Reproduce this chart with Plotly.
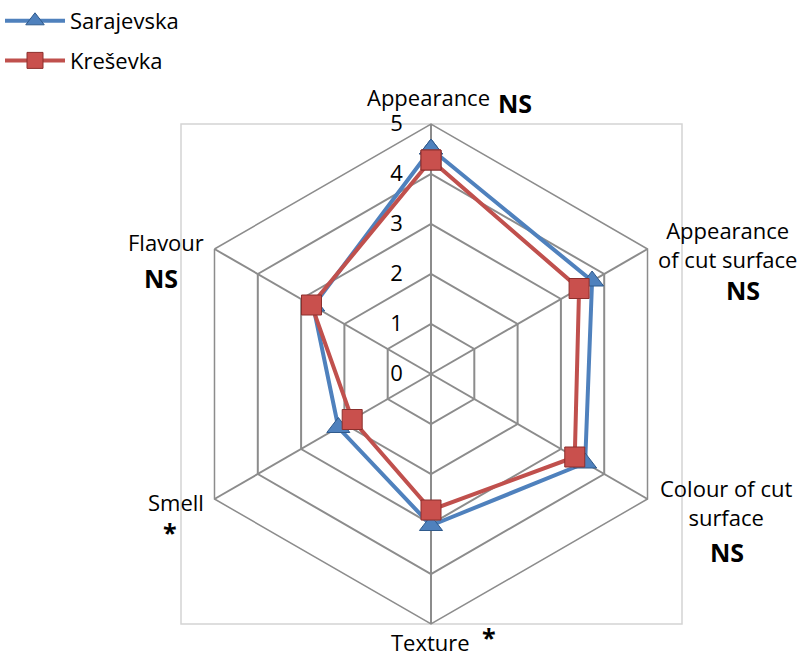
import plotly.graph_objects as go

# Sensory attributes (clockwise from the top)
attributes = ["Appearance", "Appearance of cut surface", "Colour of cut surface",
              "Texture", "Smell", "Flavour"]

# Mean panel scores (0-5 scale)
sarajevska = [4.5, 3.72, 3.56, 3.03, 2.14, 2.72]
kresevka = [4.28, 3.42, 3.32, 2.72, 1.82, 2.76]

radial_ticks = [0, 1, 2, 3, 4, 5]

W, H = 807, 659
FONT = "Open Sans"
GRID = "#8c8c8c"


def px(x):
    return x / W


def py(y):
    return 1 - y / H


def closed(vals):
    return vals + vals[:1]


theta = closed(attributes)

fig = go.Figure()
fig.add_trace(go.Scatterpolar(
    r=closed(sarajevska), theta=theta, name="Sarajevska",
    mode="lines+markers", legendgroup="s",
    line=dict(color="#4F81BD", width=4),
    marker=dict(symbol="triangle-up", size=20, color="#4F81BD",
                line=dict(color="#2F5A8C", width=1)),
))
fig.add_trace(go.Scatterpolar(
    r=closed(kresevka), theta=theta, name="Kreševka",
    mode="lines+markers", legendgroup="k",
    line=dict(color="#C0504D", width=4),
    marker=dict(symbol="square", size=20, color="#C9504D",
                line=dict(color="#8C2F2C", width=1)),
))

# domain of the radar: 500 px square centred at (431, 374)
dom_x = [px(181), px(681)]
dom_y = [py(624), py(124)]

fig.update_layout(
    width=W, height=H,
    margin=dict(l=0, r=0, t=0, b=0),
    paper_bgcolor="white",
    font=dict(family=FONT, size=20, color="black"),
    polar=dict(
        domain=dict(x=dom_x, y=dom_y),
        bgcolor="rgba(0,0,0,0)",
        gridshape="linear",
        radialaxis=dict(
            range=[0, 5], tickvals=radial_ticks, ticktext=[str(t) for t in radial_ticks],
            angle=90, side="counterclockwise", tickangle=90,
            showline=False, gridcolor=GRID, gridwidth=1.5,
            ticks="outside", ticklen=20, tickcolor="rgba(0,0,0,0)",
            tickfont=dict(size=22, family=FONT, color="black"),
        ),
        angularaxis=dict(
            rotation=90, direction="clockwise",
            showticklabels=False, ticks="",
            gridcolor=GRID, gridwidth=1.5,
            linecolor=GRID, linewidth=1.5, showline=True,
        ),
    ),
    showlegend=True,
    legend=dict(x=0.0, y=1.0, xanchor="left", yanchor="top",
                font=dict(size=22, family=FONT), tracegroupgap=8,
                itemwidth=60, bgcolor="rgba(0,0,0,0)"),
)

# light frame around the chart area
fig.add_shape(type="rect", xref="paper", yref="paper",
              x0=px(181), x1=px(682), y0=py(624), y1=py(124),
              line=dict(color="#d4d4d4", width=1.5), layer="below")

labels = [
    ("Appearance", 428, 97, "middle", False),
    ("NS", 515, 103, "middle", True),
    ("Appearance<br>of cut surface", 727, 244, "middle", False),
    ("NS", 743, 290, "middle", True),
    ("Colour of cut<br>surface", 726, 502, "middle", False),
    ("NS", 727, 552, "middle", True),
    ("Texture", 430, 659, "bottom", False),
    ("*", 489, 637, "middle", True),
    ("Flavour", 166, 242, "middle", False),
    ("NS", 161, 278, "middle", True),
    ("Smell", 176, 502, "middle", False),
    ("*", 170, 532, "middle", True),
]
for text, x, y, anchor, bold in labels:
    fig.add_annotation(
        x=px(x), y=py(y), xref="paper", yref="paper",
        text=f"<b>{text}</b>" if bold else text, showarrow=False,
        xanchor="center", yanchor=anchor, align="center",
        font=dict(family=FONT, size=25 if bold else 22, color="black"),
    )

fig.write_html("out.html")
